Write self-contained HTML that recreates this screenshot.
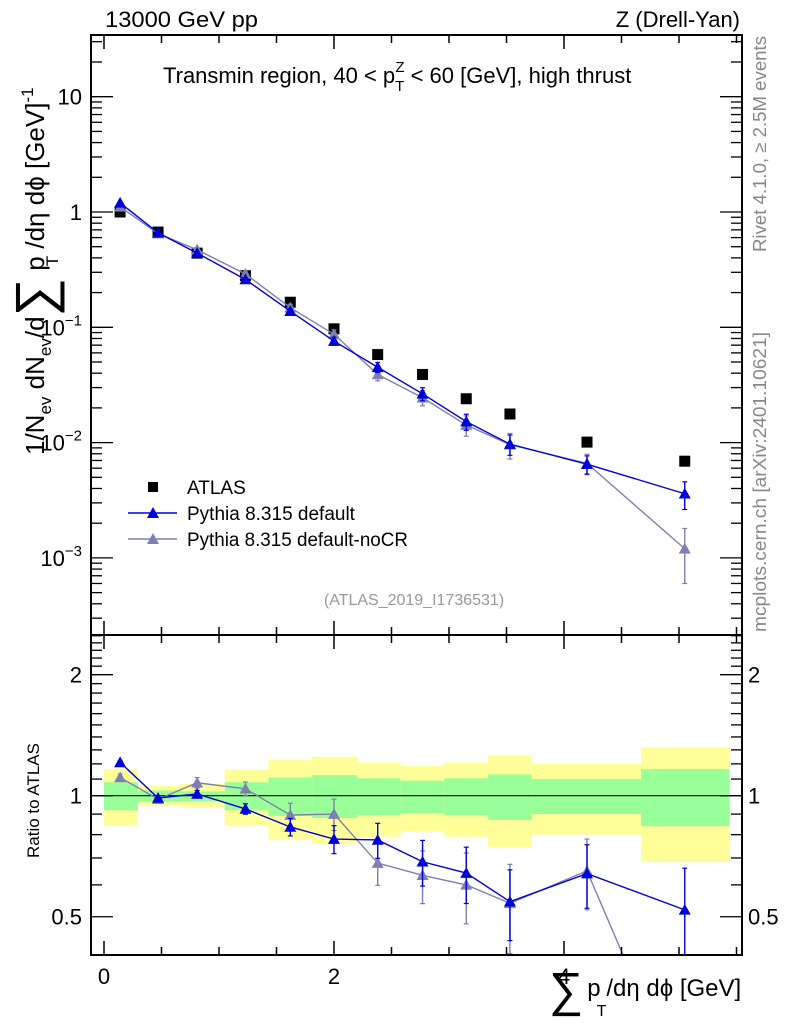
<!DOCTYPE html>
<html><head><meta charset="utf-8"><style>
html,body{margin:0;padding:0;background:#fff;overflow:hidden;width:786px;height:1024px;position:relative;}
svg{display:block;font-family:"Liberation Sans",sans-serif;}
</style></head><body>
<svg id="c" width="786" height="1024" viewBox="0 0 786 1024"></svg>
<script>
const binEdges=[0,0.295,0.67,1.05,1.43,1.81,2.2,2.58,2.96,3.34,3.72,4.67,5.44];
const binCenters=[0.14,0.47,0.81,1.23,1.62,2.0,2.38,2.77,3.15,3.53,4.2,5.05];
const atlasVals=[1.0,0.67,0.44,0.28,0.165,0.097,0.058,0.039,0.024,0.0177,0.0101,0.0069];
const blueVals=[1.2,0.66,0.44,0.26,0.138,0.076,0.045,0.0265,0.0152,0.0097,0.0065,0.0036];
const greyVals=[1.11,0.65,0.47,0.29,0.148,0.087,0.039,0.0245,0.0142,0.0096,0.0066,0.0012];
const blueRelErr=[0.01,0.01,0.02,0.03,0.05,0.08,0.1,0.13,0.16,0.2,0.18,0.27];
const greyRelErr=[0.02,0.02,0.03,0.04,0.07,0.09,0.12,0.15,0.2,0.25,0.2,0.5];
const blueRatio=[1.21,0.987,1.01,0.927,0.836,0.78,0.776,0.685,0.642,0.545,0.64,0.52];
const greyRatio=[1.11,0.98,1.077,1.04,0.895,0.9,0.68,0.634,0.6,0.54,0.65,0.176];
const yellowUp=[1.165,1.057,1.07,1.16,1.23,1.25,1.21,1.185,1.21,1.26,1.2,1.32];
const yellowDn=[0.842,0.943,0.937,0.845,0.776,0.76,0.79,0.817,0.79,0.745,0.8,0.685];
const greenUp=[1.08,1.03,1.025,1.08,1.11,1.125,1.105,1.09,1.105,1.13,1.1,1.165];
const greenDn=[0.92,0.966,0.97,0.92,0.89,0.88,0.895,0.905,0.895,0.87,0.9,0.84];
const mainYTicks=["10","1","10^-1","10^-2","10^-3"];
const mainYTickVals=[10,1,0.1,0.01,0.001];
const ratioTicks=["2","1","0.5"];
const ratioTickVals=[2,1,0.5];
const xTickLabels=["0","2","4"];
const xTickVals=[0,2,4];

const NS="http://www.w3.org/2000/svg";
const svg=document.getElementById('c');
function mk(tag,attrs,parent){const e=document.createElementNS(NS,tag);for(const k in attrs)e.setAttribute(k,attrs[k]);(parent||svg).appendChild(e);return e;}
const L=91,R=742,T=35,M=635,B=955;
const X=v=>104+115*v;
const Y=v=>212-115.3*Math.log10(v);
const YR=v=>795.7-402*Math.log10(v);
const clipM=mk('clipPath',{id:'cm'});mk('rect',{x:L,y:T,width:R-L,height:M-T},clipM);
const clipR=mk('clipPath',{id:'cr'});mk('rect',{x:L,y:M,width:R-L,height:B-M},clipR);

const gR=mk('g',{'clip-path':'url(#cr)'});


for(let i=0;i<binCenters.length;i++){
 const x0=X(binEdges[i]),x1=X(binEdges[i+1]);
 const y=mk('rect',{x:x0,y:YR(yellowUp[i]),width:x1-x0,height:YR(yellowDn[i])-YR(yellowUp[i]),fill:'#ffff99'},gR);
 
 
 const g=mk('rect',{x:x0,y:YR(greenUp[i]),width:x1-x0,height:YR(greenDn[i])-YR(greenUp[i]),fill:'#99ff99'},gR);
 
 
}
mk('line',{x1:L,x2:R,y1:YR(1),y2:YR(1),stroke:'#000','stroke-width':1.2},gR);

function tri(g,x,y,col,s){return mk('polygon',{points:`${x},${y-s} ${x-s},${y+s*0.8} ${x+s},${y+s*0.8}`,fill:col},g);}
function series(g,vals,rel,col,Yf,name){
 const pts=vals.map((v,i)=>X(binCenters[i])+','+Yf(v)).join(' ');
 const pl=mk('polyline',{points:pts,fill:'none',stroke:col,'stroke-width':1.4},g);
 
 
 vals.forEach((v,i)=>{
  const x=X(binCenters[i]);const up=v*(1+rel[i]),dn=Math.max(v*(1-rel[i]),1e-6);
  mk('line',{x1:x,x2:x,y1:Yf(up),y2:Yf(dn),stroke:col,'stroke-width':1.4},g);
  mk('line',{x1:x-2.5,x2:x+2.5,y1:Yf(up),y2:Yf(up),stroke:col,'stroke-width':1.2},g);
  mk('line',{x1:x-2.5,x2:x+2.5,y1:Yf(dn),y2:Yf(dn),stroke:col,'stroke-width':1.2},g);
  const t=tri(g,x,Yf(v),col,6);
  
  
 });
}
series(gR,greyRatio,greyRelErr,'#7f7fb2',YR,'noCR-ratio');
series(gR,blueRatio,blueRelErr,'#0000dd',YR,'default-ratio');

const gM=mk('g',{'clip-path':'url(#cm)'});


atlasVals.forEach((v,i)=>{
 const r=mk('rect',{x:X(binCenters[i])-5.5,y:Y(v)-5.5,width:11,height:11,fill:'#000'},gM);
 
 
});
series(gM,greyVals,greyRelErr,'#7f7fb2',Y,'noCR');
series(gM,blueVals,blueRelErr,'#0000dd',Y,'default');

mk('rect',{x:L,y:T,width:R-L,height:M-T,fill:'none',stroke:'#000','stroke-width':2});
mk('rect',{x:L,y:M,width:R-L,height:B-M,fill:'none',stroke:'#000','stroke-width':2});
for(let v=0;v<=5.5;v+=0.5){
 const x=X(v);const maj=Math.abs(v%2)<1e-6;const l=maj?14:8;
 [[T,T+l],[M,M-l],[M,M+l],[B,B-l]].forEach(p=>mk('line',{x1:x,x2:x,y1:p[0],y2:p[1],stroke:'#000','stroke-width':1.5}));
}
for(let e=-4;e<=1;e++)for(let m=1;m<10;m++){
 const v=m*Math.pow(10,e);const y=Y(v);if(y<T||y>M)continue;const l=m==1?22:11;
 mk('line',{x1:L,x2:L+l,y1:y,y2:y,stroke:'#000','stroke-width':1.3});
 mk('line',{x1:R,x2:R-l,y1:y,y2:y,stroke:'#000','stroke-width':1.3});
}
for(let v=0.4;v<=2.6;v+=0.1){
 const y=YR(v);if(y<M||y>B)continue;const maj=[0.5,1,2].some(t=>Math.abs(t-v)<1e-6);const l=maj?22:11;
 mk('line',{x1:L,x2:L+l,y1:y,y2:y,stroke:'#000','stroke-width':1.3});
 mk('line',{x1:R,x2:R-l,y1:y,y2:y,stroke:'#000','stroke-width':1.3});
}
function txt(s,attrs,name){const t=mk('text',attrs);t.textContent=s;return t;}
mainYTicks.forEach((s,i)=>{
 const y=Y(mainYTickVals[i]);
 if(s.includes('^')){const [b,e]=s.split('^');const t=txt('',{x:82,y:y+8,'font-size':22,'text-anchor':'end'},'y-tick-label');
  const a=mk('tspan',{},t);a.textContent=b;const c=mk('tspan',{dy:-10,'font-size':15},t);c.textContent=e.replace('-','\u2212');}
 else txt(s,{x:82,y:y+8,'font-size':22,'text-anchor':'end'},'y-tick-label');
});
ratioTicks.forEach((s,i)=>{const y=YR(ratioTickVals[i]);
 txt(s,{x:82,y:y+8,'font-size':22,'text-anchor':'end'},'ratio-tick-label-left');
 txt(s,{x:748,y:y+8,'font-size':22},'ratio-tick-label-right');});
xTickLabels.forEach((s,i)=>txt(s,{x:X(xTickVals[i]),y:984,'font-size':22,'text-anchor':'middle'},'x-tick-label'));
</script>
<svg style="position:absolute;left:0;top:0" width="786" height="1024">
<text x="105" y="27" font-size="22" textLength="153" lengthAdjust="spacingAndGlyphs">13000 GeV pp</text>
<text x="740" y="27" font-size="22" text-anchor="end">Z (Drell-Yan)</text>
<text x="163" y="83" font-size="22">Transmin region, 40 &lt; p<tspan font-size="15" dy="8">T</tspan><tspan font-size="15" dx="-9" dy="-19">Z</tspan><tspan dy="11"> &lt; 60 [GeV], high thrust</tspan></text>
<g transform="translate(766,252) rotate(-90)"><text x="0" y="0" font-size="18" fill="#888" textLength="216" lengthAdjust="spacingAndGlyphs">Rivet 4.1.0, ≥ 2.5M events</text></g>
<g transform="translate(766,632) rotate(-90)"><text x="0" y="0" font-size="18" fill="#888" textLength="300" lengthAdjust="spacingAndGlyphs">mcplots.cern.ch [arXiv:2401.10621]</text></g>
<g transform="translate(44,455) rotate(-90)"><text x="0" y="0" font-size="26">1/N<tspan font-size="17" dy="7">ev</tspan><tspan dy="-7"> dN</tspan><tspan font-size="17" dy="7">ev</tspan><tspan dy="-7">/d</tspan><tspan font-size="54" dy="9">∑</tspan><tspan dy="-9"> p</tspan><tspan font-size="17" dx="-10" dy="14">T</tspan><tspan dy="-14">  /dη dϕ   [GeV]</tspan><tspan font-size="17" dy="-11">-1</tspan></text></g>
<g transform="translate(39,858) rotate(-90)"><text x="0" y="0" font-size="17">Ratio to ATLAS</text></g>
<text x="549" y="1006" font-size="24"><tspan font-size="48">∑</tspan><tspan dx="4" dy="-10">p</tspan><tspan font-size="16" dx="-4" dy="20">T</tspan><tspan dy="-20">/dη dϕ [GeV]</tspan></text>
<text x="414" y="605" font-size="16" fill="#999" text-anchor="middle">(ATLAS_2019_I1736531)</text>
<g>
<rect x="148" y="482" width="10" height="10" fill="#000"/>
<text x="187" y="494" font-size="19">ATLAS</text>
<line x1="128" x2="177" y1="513" y2="513" stroke="#0000dd" stroke-width="1.4"/>
<polygon points="153,507 147,518 159,518" fill="#0000dd"/>
<text x="187" y="520" font-size="19">Pythia 8.315 default</text>
<line x1="128" x2="177" y1="539" y2="539" stroke="#7f7fb2" stroke-width="1.4"/>
<polygon points="153,533 147,544 159,544" fill="#7f7fb2"/>
<text x="187" y="546" font-size="19" textLength="221" lengthAdjust="spacingAndGlyphs">Pythia 8.315 default-noCR</text>
</g>
</svg>
</body></html>
